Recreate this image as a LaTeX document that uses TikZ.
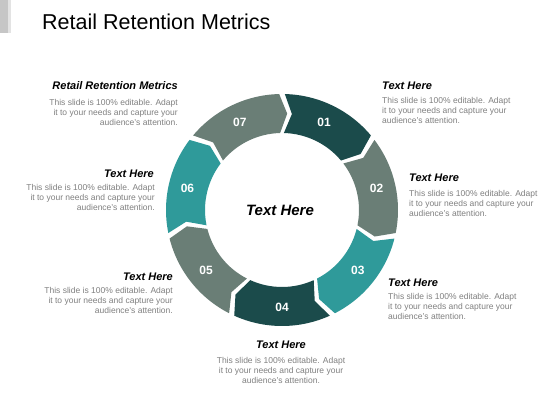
\documentclass[tikz,border=0pt]{standalone}
\usepackage{fontspec}
\setmainfont{Liberation Sans}
\definecolor{cdark}{HTML}{1B4B4B}
\definecolor{cgray}{HTML}{6A7E76}
\definecolor{cteal}{HTML}{2F9A9A}
\definecolor{ctext}{HTML}{7F7F7F}
\begin{document}
\begin{tikzpicture}[x=1pt,y=1pt,
 head/.style={font=\fontsize{11}{13}\selectfont\bfseries\itshape, inner sep=0pt, text=black},
 body/.style={font=\fontsize{8.5}{10}\selectfont, inner sep=0pt, text=ctext},
 num/.style={font=\fontsize{12}{14}\selectfont\bfseries, text=white, inner sep=0pt}]
\useasboundingbox (0,0) rectangle (560,420);
\fill[gray!45] (0,420) rectangle (8,387);
\fill[gray!22] (8,420) rectangle (11,387);
\node[anchor=base west, font=\fontsize{21.5}{24}\selectfont, inner sep=0pt] (title) at (42,390) {Retail Retention Metrics};
\begin{scope}[shift={(282,210)}]
\foreach \k/\col in {1/cdark,2/cgray,3/cteal,4/cdark,5/cgray,6/cteal,7/cgray}{
 \pgfmathsetmacro\ba{90-(\k-1)*360/7-1.4}
 \pgfmathsetmacro\bb{90-\k*360/7+1.4}
 \pgfmathsetmacro\tp{\bb-4.5}
 \pgfmathsetmacro\nt{\ba-4.5}
 \pgfmathsetmacro\mc{90-(\k-0.5)*360/7}
 \fill[\col] (\ba:116) arc[start angle=\ba, end angle=\bb, radius=116] -- (\tp:96.5) -- (\bb:77) arc[start angle=\bb, end angle=\ba, radius=77] -- (\nt:96.5) -- cycle;
 \node[num] (n\k) at (\mc:97) {0\k};
}
\end{scope}
\node[font=\fontsize{15}{18}\selectfont\bfseries\itshape, inner sep=0pt] (center) at (280,210) {Text Here};
% top left
\node[head, anchor=base east] (h0) at (178,330.4) {Retail Retention Metrics};
\node[body, anchor=north east, align=right] (b0) at (178,320.5) {This slide is 100\% editable. Adapt\\it to your needs and capture your\\audience's attention.};
% left (06)
\node[head, anchor=base east] (h6) at (154,242.1) {Text Here};
\node[body, anchor=north east, align=right] (b6) at (155,236) {This slide is 100\% editable. Adapt\\it to your needs and capture your\\audience's attention.};
% left lower (05)
\node[head, anchor=base east] (h5) at (173,139.4) {Text Here};
\node[body, anchor=north east, align=right] (b5) at (173,132.5) {This slide is 100\% editable. Adapt\\it to your needs and capture your\\audience's attention.};
% bottom (04)
\node[head, anchor=base] (h4) at (281,71) {Text Here};
\node[body, anchor=north, align=center] (b4) at (281,63.2) {This slide is 100\% editable. Adapt\\it to your needs and capture your\\audience's attention.};
% right top (01)
\node[head, anchor=base west] (h1) at (382,330) {Text Here};
\node[body, anchor=north west, align=left] (b1) at (382,322.5) {This slide is 100\% editable. Adapt\\it to your needs and capture your\\audience's attention.};
% right (02)
\node[head, anchor=base west] (h2) at (409,238) {Text Here};
\node[body, anchor=north west, align=left] (b2) at (409,230.2) {This slide is 100\% editable. Adapt\\it to your needs and capture your\\audience's attention.};
% right lower (03)
\node[head, anchor=base west] (h3) at (388,133.8) {Text Here};
\node[body, anchor=north west, align=left] (b3) at (388,127.2) {This slide is 100\% editable. Adapt\\it to your needs and capture your\\audience's attention.};
\end{tikzpicture}
\end{document}
